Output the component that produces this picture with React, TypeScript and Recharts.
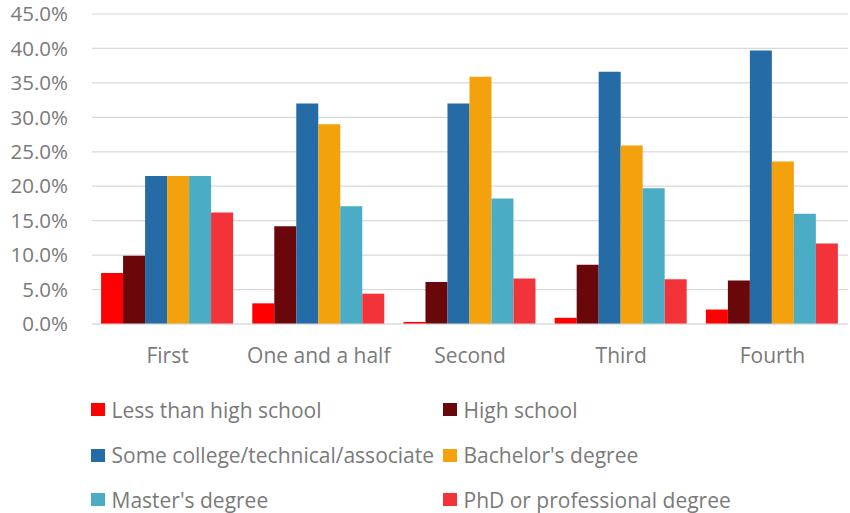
import React from 'react';
import { BarChart, Bar, XAxis, YAxis, CartesianGrid, Legend } from 'recharts';

const categories = ['First', 'One and a half', 'Second', 'Third', 'Fourth'];
const seriesNames = [
  'Less than high school',
  'High school',
  'Some college/technical/associate',
  "Bachelor's degree",
  "Master's degree",
  'PhD or professional degree',
];
const seriesColors = ['#FF0000', '#6A070A', '#256BA5', '#F3A20D', '#4BACC6', '#F2343A'];

const lessThanHighSchool = [7.4, 3.0, 0.3, 0.9, 2.1];
const highSchool = [9.9, 14.2, 6.1, 8.6, 6.3];
const someCollege = [21.5, 32.0, 32.0, 36.6, 39.7];
const bachelors = [21.5, 29.0, 35.9, 25.9, 23.6];
const masters = [21.5, 17.1, 18.2, 19.7, 16.0];
const phd = [16.2, 4.4, 6.6, 6.5, 11.7];

const yTicks = [0, 5, 10, 15, 20, 25, 30, 35, 40, 45];

const seriesValues = [lessThanHighSchool, highSchool, someCollege, bachelors, masters, phd];
const keys = ['s0', 's1', 's2', 's3', 's4', 's5'];

const data = categories.map((c, i) => {
  const row: Record<string, any> = { category: c };
  keys.forEach((k, j) => {
    row[k] = seriesValues[j][i];
  });
  return row;
});

const FONT = '"Open Sans", sans-serif';
const TEXT_COLOR = '#7A7A7A';

const LegendContent = () => {
  const rows = [19.5, 65, 109.5];
  const cols = [91, 443];
  return (
    <div style={{ position: 'relative', width: 848, height: 123, fontFamily: FONT }}>
      {seriesNames.map((name, i) => {
        const r = Math.floor(i / 2);
        const c = i % 2;
        const cy = rows[r];
        const left = cols[c];
        return (
          <React.Fragment key={name}>
            <div
              style={{
                position: 'absolute',
                left,
                top: cy - 6.5,
                width: 14,
                height: 13,
                background: seriesColors[i],
              }}
            />
            <div
              style={{
                position: 'absolute',
                left: left + 20.5,
                top: cy - 14,
                height: 28,
                lineHeight: '28px',
                fontSize: 21,
                color: TEXT_COLOR,
                whiteSpace: 'nowrap',
              }}
            >
              {name}
            </div>
          </React.Fragment>
        );
      })}
    </div>
  );
};

export default function App() {
  return (
    <div style={{ position: 'absolute', left: 0, top: 0, width: 850, height: 513, background: '#fff' }}>
      <BarChart
        width={850}
        height={513}
        data={data}
        margin={{ top: 14, right: 2, left: 0, bottom: 0 }}
        barCategoryGap="6%"
        barGap={0}
      >
        <CartesianGrid vertical={false} stroke="#D9D9D9" strokeWidth={1.2} />
        <XAxis
          dataKey="category"
          height={66}
          axisLine={{ stroke: '#D9D9D9', strokeWidth: 1.2 }}
          tickLine={false}
          tickSize={6}
          tickMargin={18}
          tick={{ fill: TEXT_COLOR, fontSize: 21, fontFamily: FONT }}
          interval={0}
        />
        <YAxis
          width={92}
          domain={[0, 45]}
          ticks={yTicks}
          axisLine={false}
          tickLine={false}
          tickSize={6}
          tickMargin={18}
          tickFormatter={(v: number) => v.toFixed(1) + '%'}
          tick={{ fill: TEXT_COLOR, fontSize: 20.5, fontFamily: FONT }}
          interval={0}
        />
        <Legend verticalAlign="bottom" content={<LegendContent />} />
        {keys.map((k, i) => (
          <Bar key={k} dataKey={k} name={seriesNames[i]} fill={seriesColors[i]} isAnimationActive={false} />
        ))}
      </BarChart>
    </div>
  );
}
